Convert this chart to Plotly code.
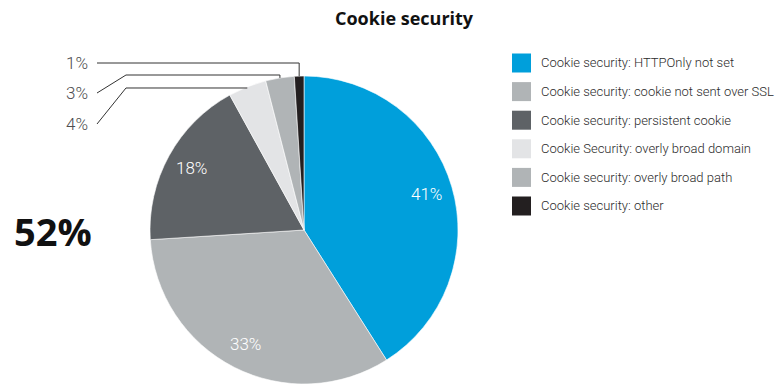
import math
import plotly.graph_objects as go

# Data
categories = [
    "Cookie security: HTTPOnly not set",
    "Cookie security: cookie not sent over SSL",
    "Cookie security: persistent cookie",
    "Cookie Security: overly broad domain",
    "Cookie security: overly broad path",
    "Cookie security: other",
]
shares = [41, 33, 18, 4, 3, 1]
colors = ["#009FDB", "#B0B4B6", "#5E6266", "#E3E4E6", "#B0B4B6", "#231F20"]
headline = "52%"
title_text = "Cookie security"

W, H = 777, 385

# Pie geometry in pixels (top-left origin)
CX, CY, R = 304, 230, 154


def px(x):
    return x / W


def py(y):
    return 1 - y / H


fig = go.Figure()
fig.add_trace(go.Pie(
    labels=categories,
    values=shares,
    marker=dict(colors=colors, line=dict(color="white", width=0.6)),
    sort=False,
    direction="clockwise",
    rotation=0,
    textinfo="none",
    hoverinfo="label+percent",
    domain=dict(x=[px(CX - R), px(CX + R)], y=[py(CY + R), py(CY - R)]),
    showlegend=False,
))

total = sum(shares)
annotations = []
shapes = []

# Slice mid-angles (clockwise from 12 o'clock)
cum = 0
mids = []
for v in shares:
    mids.append((cum + v / 2) / total * 2 * math.pi)
    cum += v

# Large slices: labels inside the pie
for v, a in zip(shares, mids):
    if v >= 10:
        rr = 0.83 * R
        x = CX + rr * math.sin(a)
        y = CY - rr * math.cos(a)
        annotations.append(dict(
            x=px(x), y=py(y), xref="paper", yref="paper",
            text=f"{v}%", showarrow=False,
            font=dict(family="Roboto", size=17, color="white", weight=300),
            xanchor="center", yanchor="middle",
        ))

# Small slices: labels on the left with elbow leader lines
label_rows = {1: (63, 63), 3: (93, 75), 4: (124, 88)}  # label y, elbow y
for v, a in zip(shares, mids):
    if v in label_rows:
        ly, ey = label_rows[v]
        xe = CX + R * math.sin(a)
        ye = CY - R * math.cos(a)
        annotations.append(dict(
            x=px(90), y=py(ly), xref="paper", yref="paper",
            text=f"{v}%", showarrow=False,
            font=dict(family="Roboto", size=17, color="#4D4D4F", weight=300),
            xanchor="right", yanchor="middle",
        ))
        pts = [(97, ly)]
        if ey != ly:
            pts.append((126, ey))
        pts.append((xe, ey))
        if ye - ey > 1:
            pts.append((xe, ye))
        path = "M " + " L ".join(f"{px(x):.5f},{py(y):.5f}" for x, y in pts)
        shapes.append(dict(type="path", path=path, xref="paper", yref="paper",
                           line=dict(color="#333333", width=1)))

# Legend drawn as swatches + text
row0, step = 63, 28.6
for i, (name, col) in enumerate(zip(categories, colors)):
    yc = row0 + i * step
    shapes.append(dict(type="rect", xref="paper", yref="paper",
                       x0=px(512), x1=px(531), y0=py(yc + 9.5), y1=py(yc - 9.5),
                       fillcolor=col, line=dict(width=0)))
    annotations.append(dict(
        x=px(539), y=py(yc), xref="paper", yref="paper", text=name,
        showarrow=False, xanchor="left", yanchor="middle",
        font=dict(family="Roboto", size=13, color="#2B2B2B", weight=300),
    ))

# Title and headline figure
annotations.append(dict(
    x=px(405), y=py(18), xref="paper", yref="paper", text=f"<b>{title_text}</b>",
    showarrow=False, xanchor="center", yanchor="middle",
    font=dict(family="Open Sans", size=18, color="#111111"),
))
annotations.append(dict(
    x=px(53), y=py(231), xref="paper", yref="paper", text=f"<b>{headline}</b>",
    showarrow=False, xanchor="center", yanchor="middle",
    font=dict(family="Open Sans", size=38, color="#111111"),
))

fig.update_layout(
    width=W, height=H,
    margin=dict(l=0, r=0, t=0, b=0),
    paper_bgcolor="white", plot_bgcolor="white",
    annotations=annotations, shapes=shapes,
)

fig.write_html("out.html")
